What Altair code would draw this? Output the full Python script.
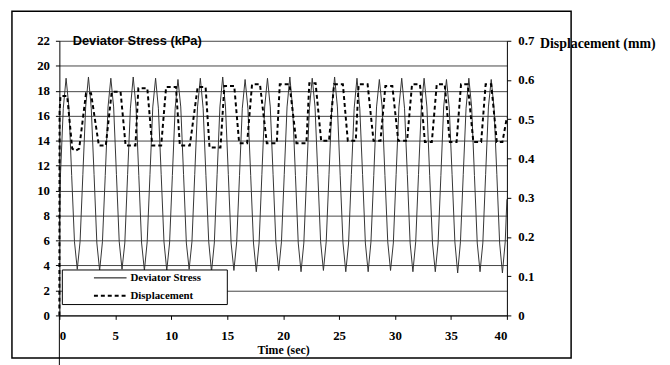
import altair as alt
import pandas as pd

# ---------------- data ----------------
series_names = ["Deviator Stress", "Displacement"]

# Deviator stress (kPa): value at t=0, then 20 loading cycles sampled every 0.25 s from t=0.1 s
stress_first = 7.0
stress_cycles = [
    [11.3, 16.6, 19.0, 16.7, 11.2, 5.9, 3.7, 5.9],
    [11.3, 16.7, 19.1, 16.6, 11.3, 5.8, 3.6, 5.9],
    [11.2, 16.7, 19.0, 16.7, 11.3, 5.9, 3.7, 5.8],
    [11.3, 16.6, 19.1, 16.7, 11.2, 5.8, 3.6, 5.9],
    [11.3, 16.7, 19.0, 16.6, 11.3, 5.9, 3.6, 5.8],
    [11.2, 16.6, 18.9, 16.7, 11.3, 5.8, 3.7, 5.9],
    [11.3, 16.7, 19.0, 16.6, 11.2, 5.9, 3.5, 5.8],
    [11.3, 16.7, 19.1, 16.7, 11.3, 5.8, 3.6, 5.9],
    [11.2, 16.6, 18.9, 16.6, 11.2, 5.8, 3.5, 5.8],
    [11.3, 16.7, 19.0, 16.7, 11.3, 5.9, 3.6, 5.9],
    [11.3, 16.7, 19.1, 16.6, 11.2, 5.8, 3.5, 5.8],
    [11.2, 16.6, 19.0, 16.7, 11.3, 5.9, 3.6, 5.9],
    [11.3, 16.7, 19.1, 16.7, 11.2, 5.8, 3.5, 5.8],
    [11.3, 16.6, 19.0, 16.6, 11.3, 5.8, 3.5, 5.9],
    [11.2, 16.7, 18.9, 16.7, 11.2, 5.9, 3.6, 5.8],
    [11.3, 16.7, 19.0, 16.6, 11.3, 5.8, 3.5, 5.9],
    [11.3, 16.6, 19.0, 16.7, 11.2, 5.8, 3.5, 5.8],
    [11.2, 16.7, 18.9, 16.6, 11.3, 5.9, 3.4, 5.9],
    [11.3, 16.6, 19.0, 16.7, 11.2, 5.8, 3.5, 5.8],
    [11.3, 16.7, 18.9, 16.6, 11.3, 5.8, 3.4, 5.9],
]
stress_last = 9.3  # t = 40 s

# Displacement (mm): break points of the dashed trace
disp_t = [0.0, 0.02, 0.1, 0.7, 1.15, 1.45, 1.77, 2.38, 2.83, 3.53, 4.15, 4.68, 5.47,
          5.92, 6.8, 7.06, 7.86, 8.3, 9.1, 9.54, 10.42, 10.77, 11.66, 12.36, 13.07,
          13.42, 14.4, 14.75, 15.63, 16.07, 16.78, 17.22, 17.93, 18.54, 19.43, 19.7,
          20.57, 21.19, 22.08, 22.34, 22.9, 23.4, 24.1, 24.55, 25.34, 25.78, 26.49,
          26.75, 27.55, 28.08, 28.7, 29.14, 29.76, 30.29, 31.08, 31.52, 32.23, 32.67,
          33.29, 33.73, 34.44, 34.9, 35.5, 35.9, 36.5, 37.0, 37.7, 38.1, 38.6, 39.1,
          39.6, 40.0]
disp_mm = [0.0, 0.52, 0.559, 0.559, 0.425, 0.420, 0.425, 0.566, 0.566, 0.433, 0.433,
           0.570, 0.570, 0.433, 0.433, 0.579, 0.579, 0.433, 0.433, 0.582, 0.582, 0.433,
           0.433, 0.582, 0.582, 0.428, 0.428, 0.585, 0.585, 0.439, 0.439, 0.589, 0.589,
           0.439, 0.439, 0.589, 0.589, 0.439, 0.439, 0.592, 0.592, 0.445, 0.445, 0.589,
           0.589, 0.445, 0.445, 0.589, 0.589, 0.445, 0.445, 0.585, 0.585, 0.445, 0.445,
           0.589, 0.589, 0.442, 0.442, 0.589, 0.589, 0.442, 0.442, 0.589, 0.589, 0.442,
           0.442, 0.589, 0.589, 0.442, 0.442, 0.505]

x_ticks = [0, 5, 10, 15, 20, 25, 30, 35, 40]
left_ticks = [0, 2, 4, 6, 8, 10, 12, 14, 16, 18, 20, 22]
right_ticks = [0, 0.1, 0.2, 0.3, 0.4, 0.5, 0.6, 0.7]

# ---------------- tables ----------------
stress_vals = [stress_first] + [v for cyc in stress_cycles for v in cyc] + [stress_last]
stress_t = [0.0] + [round(0.1 + 0.25 * i, 2) for i in range(len(stress_vals) - 2)] + [40.0]
stress_df = pd.DataFrame({"t": stress_t, "kpa": stress_vals})
disp_df = pd.DataFrame({"t": disp_t, "mm": disp_mm})
one = pd.DataFrame({"k": [0]})

SERIF = "Times New Roman, Liberation Serif, serif"
SANS = "Arial, Liberation Sans, sans-serif"

xscale = alt.Scale(domain=[0, 40], nice=False, zero=False)
xaxis = alt.Axis(values=x_ticks, format="d", grid=False, tickSize=4, labelPadding=10,
                 labelFont=SERIF, labelFontWeight="bold", labelFontSize=13,
                 labelColor="black", tickColor="black", domainColor="black",
                 title="Time (sec)", titleFont=SERIF, titleFontWeight="bold",
                 titleFontSize=12, titleColor="black", titleX=226.5, titleY=35,
                 titleBaseline="middle", titleAlign="center")

stress = alt.Chart(stress_df).mark_line(color="#333333", strokeWidth=1).encode(
    x=alt.X("t:Q", scale=xscale, axis=xaxis),
    y=alt.Y("kpa:Q", scale=alt.Scale(domain=[0, 22], nice=False),
            axis=alt.Axis(values=left_ticks, format="d", orient="left", grid=True,
                          gridColor="#444444", gridWidth=1, tickSize=4, labelPadding=6,
                          labelFont=SERIF, labelFontWeight="bold", labelFontSize=13,
                          labelColor="black", tickColor="black", domainColor="black",
                          title="Deviator Stress (kPa)", titleAngle=0, titleX=13,
                          titleY=0, titleAlign="left", titleBaseline="middle",
                          titleFont=SANS, titleFontWeight="bold", titleFontSize=13,
                          titleColor="black")),
)

disp = alt.Chart(disp_df).mark_line(color="black", strokeWidth=2, strokeDash=[4, 3]).encode(
    x=alt.X("t:Q", scale=xscale),
    y=alt.Y("mm:Q", scale=alt.Scale(domain=[0, 0.7], nice=False),
            axis=alt.Axis(values=right_ticks, format=".1~f", orient="right", grid=False,
                          tickSize=4, labelPadding=7, labelFont=SERIF,
                          labelFontWeight="bold", labelFontSize=13, labelColor="black",
                          tickColor="black", domainColor="black",
                          title="Displacement (mm)", titleAngle=0, titleX=33, titleY=3,
                          titleAlign="left", titleBaseline="middle", titleFont=SERIF,
                          titleFontWeight="bold", titleFontSize=14, titleColor="black")),
)

# outer frame and extended y-axis line (decoration)
frame = alt.Chart(one).mark_rect(fill="white", fillOpacity=0, stroke="black",
                                 strokeWidth=1.5).encode(
    x=alt.value(-48), x2=alt.value(518), y=alt.value(-30), y2=alt.value(321))
axis_ext = alt.Chart(one).mark_rule(color="black", strokeWidth=1).encode(
    x=alt.value(0), y=alt.value(278), y2=alt.value(330))

# legend (box, samples, labels)
leg_box = alt.Chart(one).mark_rect(fill="white", stroke="black", strokeWidth=1).encode(
    x=alt.value(3), x2=alt.value(170), y=alt.value(232), y2=alt.value(267))
leg_solid = alt.Chart(one).mark_rule(color="black", strokeWidth=1).encode(
    x=alt.value(35), x2=alt.value(68), y=alt.value(240))
leg_dash = alt.Chart(one).mark_rule(color="black", strokeWidth=2, strokeDash=[4, 3]).encode(
    x=alt.value(35), x2=alt.value(68), y=alt.value(258))
leg_text1 = alt.Chart(pd.DataFrame({"name": [series_names[0]]})).mark_text(
    align="left", baseline="middle", font=SERIF, fontWeight="bold", fontSize=11,
    color="black").encode(x=alt.value(72), y=alt.value(240), text="name:N")
leg_text2 = alt.Chart(pd.DataFrame({"name": [series_names[1]]})).mark_text(
    align="left", baseline="middle", font=SERIF, fontWeight="bold", fontSize=11,
    color="black").encode(x=alt.value(72), y=alt.value(258), text="name:N")

chart = alt.layer(
    stress, disp, frame, axis_ext, leg_box, leg_solid, leg_dash, leg_text1, leg_text2
).resolve_scale(y="independent").properties(
    width=453, height=278,
    autosize=alt.AutoSizeParams(type="none"),
    padding={"left": 52, "top": 31, "right": 157, "bottom": 48},
    background="white",
).configure_view(stroke=None)

chart.save("out.html", embed_options={"renderer": "svg", "actions": False})
